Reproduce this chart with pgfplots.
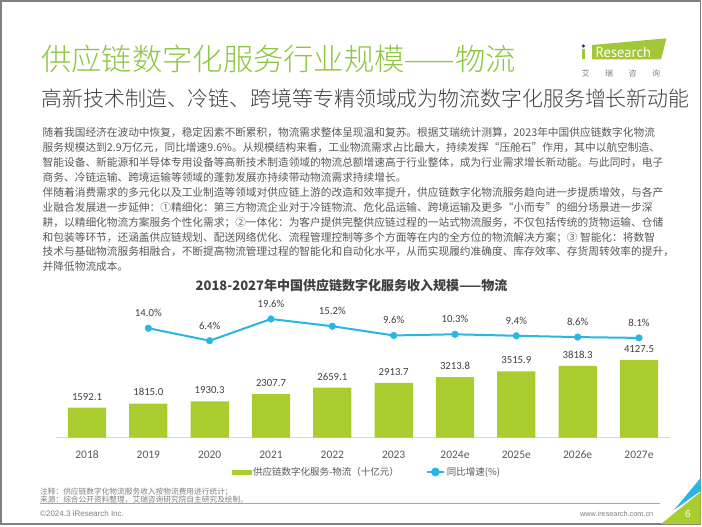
\documentclass[border=0pt]{standalone}
\usepackage{fontspec}
\usepackage{pgfplots}
\pgfplotsset{compat=1.18}
\setmainfont{Noto Sans CJK SC}
\IfFontExistsTF{Noto Sans CJK SC Light}{\newfontfamily\lightcjk{Noto Sans CJK SC Light}}{\newfontfamily\lightcjk{Noto Sans CJK SC}}
\newfontfamily\numfont{Carlito}
\newfontfamily\latfont{Liberation Sans}
\newfontfamily\logofont{PT Sans}
\definecolor{bargreen}{HTML}{A9CC2E}
\definecolor{titlegreen}{HTML}{8DC63F}
\definecolor{lineblue}{HTML}{29B6E6}
\definecolor{txt}{HTML}{595959}
\definecolor{dark}{HTML}{404040}
\definecolor{logogreen}{HTML}{A2C839}
\definecolor{navy}{HTML}{1F3E75}
\definecolor{foot}{HTML}{808080}
\newcommand{\fs}[1]{\fontsize{#1}{#1}\selectfont}
\begin{document}
\begin{tikzpicture}
% canvas and frame
\fill[white] (0pt,0pt) rectangle (702pt,-527pt);
\draw[foot, line width=1.2pt] (1pt,-1pt) rectangle (700.5pt,-524pt);
% titles
\node[anchor=base west, inner sep=0, text=titlegreen, font=\lightcjk\fs{30.3}] at (41pt,-70.4pt) {供应链数字化服务行业规模——物流};
\node[anchor=base west, inner sep=0, text=dark, font=\lightcjk\fs{20.9}] at (41.5pt,-106.4pt) {高新技术制造、冷链、跨境等专精领域成为物流数字化服务增长新动能};
% logo
\fill[logogreen] (592pt,-45pt) -- (666.5pt,-38.3pt) -- (661pt,-59.5pt) -- (592pt,-59.5pt) -- cycle;
\node[anchor=base west, inner sep=0, text=white, font=\logofont\fs{14.5}] at (595.5pt,-57.3pt) {Research};
\fill[logogreen] (582pt,-49.5pt) rectangle (584.8pt,-59.5pt);
\fill[navy] (583.4pt,-46pt) circle (1.8pt);
\foreach \c/\x in {艾/585.7,瑞/609.1,咨/632.5,询/656}{\node[text=foot, font=\fs{8}, inner sep=0] at (\x pt,-73.3pt) {\c};}
% body text
\begin{scope}[every node/.style={anchor=base west, inner sep=0, text=txt, font=\fs{10.7}}]
\node at (42.5pt,-136.6pt) {随着我国经济在波动中恢复，稳定因素不断累积，物流需求整体呈现温和复苏。根据艾瑞统计测算，2023年中国供应链数字化物流};
\node at (42.5pt,-151.4pt) {服务规模达到2.9万亿元，同比增速9.6\%。从规模结构来看，工业物流需求占比最大，持续发挥“压舱石”作用，其中以航空制造、};
\node at (42.5pt,-166.2pt) {智能设备、新能源和半导体专用设备等高新技术制造领域的物流总额增速高于行业整体，成为行业需求增长新动能。与此同时，电子};
\node at (42.5pt,-181.0pt) {商务、冷链运输、跨境运输等领域的蓬勃发展亦持续带动物流需求持续增长。};
\node at (42.5pt,-196.6pt) {伴随着消费需求的多元化以及工业制造等领域对供应链上游的改造和效率提升，供应链数字化物流服务趋向进一步提质增效，与各产};
\node at (42.5pt,-211.4pt) {业融合发展进一步延伸：①精细化：第三方物流企业对于冷链物流、危化品运输、跨境运输及更多“小而专”的细分场景进一步深};
\node at (42.5pt,-226.2pt) {耕，以精细化物流方案服务个性化需求；②一体化：为客户提供完整供应链过程的一站式物流服务，不仅包括传统的货物运输、仓储};
\node at (42.5pt,-241.0pt) {和包装等环节，还涵盖供应链规划、配送网络优化、流程管理控制等多个方面等在内的全方位的物流解决方案；③ 智能化：将数智};
\node at (42.5pt,-255.8pt) {技术与基础物流服务相融合，不断提高物流管理过程的智能化和自动化水平，从而实现履约准确度、库存效率、存货周转效率的提升，};
\node at (42.5pt,-270.4pt) {并降低物流成本。};
\end{scope}
% chart title
\node[anchor=base, inner sep=0, text=dark, font=\bfseries\fs{13}] at (351.5pt,-290pt) {2018-2027年中国供应链数字化服务收入规模——物流};
% bars
\begin{axis}[
  at={(56.33pt,-437.7pt)}, anchor=south west,
  width=613.33pt, height=147.7pt, scale only axis,
  xmin=-0.5, xmax=9.5, ymin=0, ymax=7842,
  axis x line=bottom, axis y line=none,
  axis line style={-, draw=black!15, line width=1.2pt},
  xtick={0,...,9},
  xticklabels={2018,2019,2020,2021,2022,2023,2024e,2025e,2026e,2027e},
  xtick style={draw=none},
  xticklabel style={anchor=base, yshift=-16.6pt, font=\numfont\fs{11.5}, text=txt, inner sep=0pt},
  ybar, bar width=38.3pt,
  clip=false,
]
\addplot[fill=bargreen, draw=none, point meta=explicit symbolic,
  nodes near coords={\pgfplotspointmeta},
  nodes near coords style={anchor=base, yshift=7.6pt, font=\numfont\fs{10.75}, text=dark, inner sep=0pt}]
coordinates {(0,1592.1)[1592.1] (1,1815.0)[1815.0] (2,1930.3)[1930.3] (3,2307.7)[2307.7] (4,2659.1)[2659.1]
 (5,2913.7)[2913.7] (6,3213.8)[3213.8] (7,3515.9)[3515.9] (8,3818.3)[3818.3] (9,4127.5)[4127.5]};
\end{axis}
% line
\begin{axis}[
  at={(56.33pt,-437.7pt)}, anchor=south west,
  width=613.33pt, height=147.7pt, scale only axis,
  xmin=-0.5, xmax=9.5, ymin=-52.6, ymax=37.24,
  hide axis, clip=false,
  legend columns=2,
  legend style={at={(0.2859,-0.2322)}, anchor=west, draw=none, fill=none,
    inner sep=0pt, outer sep=0pt, font=\fs{9.5},
    nodes={inner sep=0pt, outer sep=0pt, text=txt},
    /tikz/every odd column/.style={column sep=2pt},
    /tikz/every even column/.style={column sep=27pt}},
]
\addlegendimage{legend image code/.code={\fill[bargreen] (0pt,-2pt) rectangle (19pt,2pt);}}
\addlegendentry{供应链数字化服务-物流（十亿元）}
\addplot[color=lineblue, line width=2pt, mark=*, mark size=3.3pt,
  mark options={fill=lineblue, draw=lineblue, line width=0.5pt},
  point meta=explicit symbolic,
  nodes near coords={\pgfplotspointmeta},
  nodes near coords style={anchor=base, yshift=11.6pt, font=\numfont\fs{10.75}, text=dark, inner sep=0pt},
  legend image code/.code={\draw[lineblue, line width=2pt] (0pt,0pt) -- (17pt,0pt); \fill[lineblue] (8.5pt,0pt) circle (3.3pt);}]
coordinates {(1,14.0)[14.0\%] (2,6.4)[6.4\%] (3,19.6)[19.6\%] (4,15.2)[15.2\%] (5,9.6)[9.6\%]
 (6,10.3)[10.3\%] (7,9.4)[9.4\%] (8,8.6)[8.6\%] (9,8.1)[8.1\%]};
\addlegendentry{同比增速(\%)}
\end{axis}
% footer
\begin{scope}[every node/.style={anchor=base west, inner sep=0, text=foot}]
\node[font=\fs{7.7}] at (40pt,-494.1pt) {注释：供应链数字化物流服务收入按物流费用进行统计；};
\node[font=\fs{7.7}] at (40pt,-502.1pt) {来源：综合公开资料整理，艾瑞咨询研究院自主研究及绘制。};
\node[font=\latfont\fs{8}] at (40pt,-516.2pt) {©2024.3 iResearch Inc.};
\node[font=\latfont\fs{7.3}] at (580pt,-516pt) {www.iresearch.com.cn};
\end{scope}
\draw[black!35, line width=0.75pt] (40pt,-503.2pt) -- (660pt,-503.2pt);
% corner decoration
\fill[bargreen] (661pt,-524pt) -- (700.5pt,-524pt) -- (700.5pt,-492pt) -- cycle;
\fill[lineblue] (674pt,-510pt) -- (700.5pt,-478pt) -- (700.5pt,-491pt) -- cycle;
\node[anchor=base, inner sep=0, text=white, font=\latfont\fs{10}] at (688pt,-517pt) {6};
\end{tikzpicture}
\end{document}
